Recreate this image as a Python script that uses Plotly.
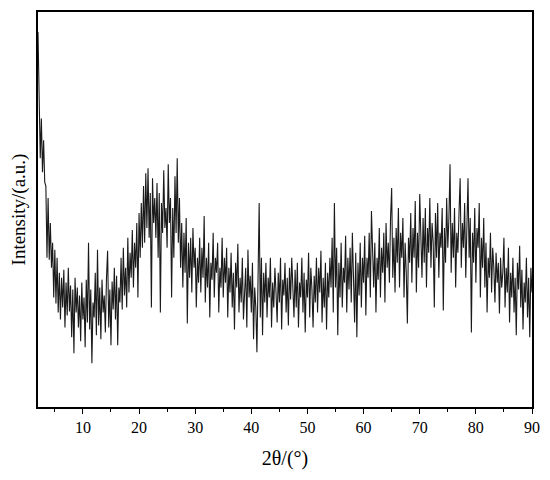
import numpy as np
import plotly.graph_objects as go

# XRD pattern, 2-theta from 2 to 90 deg in 0.2 deg steps
two_theta_start = 2.0
two_theta_step = 0.2

intensity = [
    377, 300, 250, 290, 236,
    268, 226, 222, 150, 210,
    148, 185, 140, 165, 110,
    158, 104, 150, 95, 135,
    88, 130, 100, 138, 80,
    125, 92, 140, 96, 122,
    70, 118, 54, 130, 95,
    120, 80, 112, 66, 125,
    88, 110, 60, 128, 85,
    165, 78, 118, 44, 105,
    90, 135, 72, 158, 82,
    120, 68, 128, 95, 112,
    75, 130, 157, 80, 118,
    62, 126, 98, 140, 88,
    132, 62, 120, 105, 150,
    98, 160, 112, 140, 100,
    170, 115, 155, 130, 178,
    120, 165, 140, 185, 110,
    195, 150, 205, 160, 222,
    165, 235, 180, 240, 170,
    215, 100, 230, 185, 210,
    170, 225, 150, 215, 95,
    205, 175, 238, 180, 200,
    160, 244, 185, 210, 110,
    200, 150, 232, 175, 250,
    165, 210, 140, 185, 120,
    175, 135, 190, 84, 165,
    130, 170, 115, 180, 140,
    160, 100, 150, 125, 170,
    115, 160, 130, 192, 105,
    150, 120, 165, 90, 145,
    128, 175, 110, 150, 135,
    165, 95, 140, 120, 170,
    110, 150, 125, 160, 90,
    140, 115, 155, 100, 135,
    78, 145, 120, 164, 95,
    130, 105, 150, 88, 125,
    140, 80, 158, 110, 132,
    95, 145, 68, 120, 100,
    55, 130, 205, 90, 150,
    72, 135, 105, 145, 90,
    130, 110, 150, 80, 125,
    100, 140, 115, 85, 135,
    105, 150, 78, 128, 112,
    145, 95, 130, 82, 140,
    108, 150, 120, 90, 138,
    100, 145, 80, 125, 110,
    150, 95, 135, 75, 128,
    110, 155, 90, 140, 118,
    80, 132, 105, 150, 95,
    140, 115, 157, 85, 130,
    100, 145, 78, 135, 110,
    150, 120, 170, 95, 205,
    120, 160, 72, 145, 110,
    165, 100, 140, 125, 172,
    95, 150, 118, 160, 105,
    175, 130, 85, 155, 70,
    145, 112, 165, 100, 150,
    125, 172, 92, 150, 130,
    175, 110, 197, 140, 120,
    165, 95, 150, 128, 180,
    110, 160, 135, 175, 105,
    185, 140, 165, 125, 190,
    220, 130, 170, 115, 180,
    145, 200, 120, 175, 150,
    190, 110, 165, 135, 84,
    170, 145, 195, 125, 180,
    150, 207, 115, 175, 140,
    214, 160, 130, 190, 145,
    200, 120, 180, 155, 210,
    140, 185, 165, 100, 195,
    150, 205, 130, 175, 160,
    200, 97, 180, 145, 210,
    160, 190, 244, 135, 185,
    150, 200, 120, 175, 155,
    195, 230, 140, 185, 160,
    205, 130, 180, 230, 150,
    190, 75, 175, 145, 200,
    125, 180, 160, 205, 110,
    170, 140, 190, 120, 165,
    95, 150, 130, 175, 115,
    160, 140, 105, 155, 125,
    145, 94, 150, 120, 135,
    170, 100, 140, 115, 160,
    85, 135, 110, 150, 95,
    130, 72, 145, 118, 162,
    100, 138, 78, 125, 105,
    150, 90, 130, 70, 140,
    115,
]

x_ticks = [10, 20, 30, 40, 50, 60, 70, 80, 90]

two_theta = np.round(two_theta_start + two_theta_step * np.arange(len(intensity)), 2)

serif = "Liberation Serif, Times New Roman, serif"

fig = go.Figure(
    go.Scatter(
        x=two_theta,
        y=intensity,
        mode="lines",
        line=dict(color="#1a1a1a", width=1.1),
        showlegend=False,
    )
)

# page adds ~8px body margin, so figure is sized to fit the window
fig.update_layout(
    width=534,
    height=464,
    margin=dict(l=30, r=10, t=2, b=65),
    paper_bgcolor="white",
    plot_bgcolor="white",
    font=dict(family=serif, color="black"),
)

fig.update_xaxes(
    range=[2, 90],
    tickvals=x_ticks,
    ticks="outside",
    ticklen=5,
    tickwidth=1.2,
    tickcolor="black",
    minor=dict(dtick=5, tick0=5, ticks="outside", ticklen=3, tickwidth=1, tickcolor="black"),
    showline=True,
    linecolor="black",
    linewidth=1.5,
    mirror=True,
    showgrid=False,
    zeroline=False,
    tickfont=dict(family=serif, size=16),
    title=dict(text="2θ/(°)", font=dict(family=serif, size=20), standoff=16),
)

fig.update_yaxes(
    range=[0, 397],
    showticklabels=False,
    ticks="",
    showline=True,
    linecolor="black",
    linewidth=1.5,
    mirror=True,
    showgrid=False,
    zeroline=False,
    title=dict(text="Intensity/(a.u.)", font=dict(family=serif, size=19), standoff=6),
)

fig.write_html("out.html")
